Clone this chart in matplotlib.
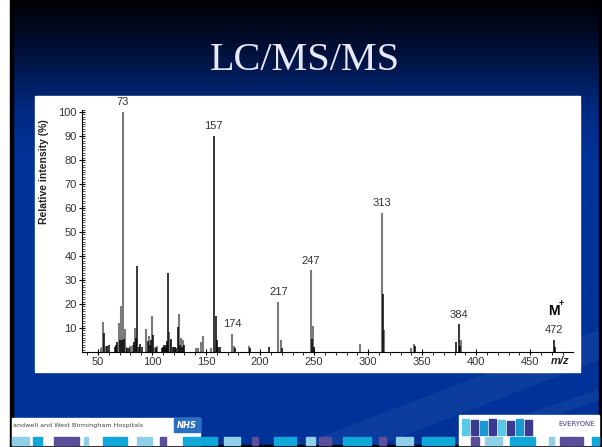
import numpy as np
import matplotlib
matplotlib.use("Agg")
import matplotlib.pyplot as plt
from matplotlib.patches import Rectangle, Polygon
from matplotlib.ticker import MultipleLocator

# spectrum data (m/z, relative intensity %)
gray_mz = [53, 54, 55, 57, 69, 71, 73, 75, 76, 80, 81, 82, 84, 94, 97, 100,
           103, 105, 116, 117, 120, 125, 127, 129, 141, 143, 145, 147, 155,
           174, 176, 190, 217, 219, 247, 249, 292, 313, 315, 340, 342, 386]
gray_int = [1.5, 2, 12.5, 2.5, 12, 19, 100, 9.5, 2, 2.5, 2.5, 3, 10, 9.5, 6.5, 15,
            2, 2.5, 8.5, 5, 2, 16, 6, 5, 1.5, 1.5, 4, 6.5, 1.5,
            7.5, 2.5, 2.5, 21, 5, 34, 11, 3.5, 58, 9, 1.5, 3.5, 5]

black_mz = [56, 58, 60, 66, 67, 68, 70, 72, 74, 77, 79, 83, 85, 86, 88, 89, 91,
            96, 98, 99, 101, 104, 109, 110, 111, 112, 113, 114, 115, 118, 119,
            121, 122, 124, 126, 128, 130, 157, 159, 160, 161, 163, 177, 191,
            208, 220, 248, 250, 314, 343, 381, 384, 385, 472, 473]
black_int = [8, 2.5, 3, 2, 3, 4, 5, 5, 5.5, 1.5, 1.5, 4, 6, 36, 2, 3.5, 2,
             4.5, 3, 5, 7, 1.5, 1.5, 2, 3, 2, 3, 4.5, 33, 5.5, 2,
             2, 1.5, 10.5, 3, 2, 3, 90, 15, 5, 2, 2, 1.5, 1.5,
             2, 1.5, 5.5, 2, 24, 2.5, 4, 11.5, 2.5, 5, 2]

label_mz = [73, 157, 174, 217, 247, 313, 384, 472]
label_int = [100, 90, 7.5, 21, 34, 58, 11.5, 5]

W, H = 602, 447
fig = plt.figure(figsize=(6.02, 4.47), dpi=100, facecolor="white")

# slide background
bg = fig.add_axes([0, 0, 1, 1], zorder=0)
bg.axis("off")

ys = np.linspace(0, 445, 300)
stops = [0, 40, 110, 160, 445]
r = np.interp(ys, stops, [0, 2, 0, 0, 0]) / 255
g = np.interp(ys, stops, [0, 12, 42, 51, 51]) / 255
b = np.interp(ys, stops, [5, 45, 130, 153, 153]) / 255
grad = np.stack([r, g, b], axis=-1)[:, None, :]
bg.imshow(grad, extent=[12, 599, 445, 0], aspect="auto", origin="upper", zorder=0)
bg.set_xlim(0, W)
bg.set_ylim(H, 0)
bg.add_patch(Polygon([[300, 445], [599, 330], [599, 360], [380, 445]],
                     facecolor="white", alpha=0.05, lw=0, zorder=1))
bg.add_patch(Polygon([[430, 445], [599, 390], [599, 400], [470, 445]],
                     facecolor="white", alpha=0.05, lw=0, zorder=1))
bg.add_patch(Rectangle((10, 0), 2.5, H, color="black", zorder=2))
bg.add_patch(Rectangle((599, 0), 3, H, color="black", zorder=2))
bg.add_patch(Rectangle((10, 445), 592, 2, color="black", zorder=2))

bg.text(305, 61, "LC/MS/MS", fontsize=29, family="Liberation Serif",
        color="#e8e8f8", ha="center", va="center", zorder=3)

# white chart panel
bg.add_patch(Rectangle((35, 96), 545, 276, color="white", zorder=2))

# footer logos
bg.add_patch(Rectangle((12, 418), 188, 27, color="white", zorder=2))
bg.add_patch(Rectangle((459, 415), 140, 30, color="white", zorder=2))
bg.text(13, 426, "andwell and West Birmingham Hospitals", fontsize=4.6,
        color="#444444", ha="left", va="center", zorder=3)
bg.add_patch(Rectangle((174, 418), 26, 14, color="#2a6fc0", zorder=3))
bg.text(187, 425, "NHS", fontsize=6, fontweight="bold", style="italic",
        color="white", ha="center", va="center", zorder=4)
for i, c in enumerate(["#5ac8e8", "#3a3a90", "#1a9ad0", "#3a3a90", "#5ac8e8",
                       "#3a3a90", "#1a9ad0", "#3a3a90"]):
    bg.add_patch(Rectangle((462 + i * 9, 419 + (i % 3)), 7, 16 - (i % 3),
                           color=c, zorder=3))
bg.text(577, 424, "EVERYONE", fontsize=5, color="#3a3a90", ha="center",
        va="center", zorder=4)
stripe = [(12, 29, "#8fd0e8"), (33, 42, "#10a8d8"), (54, 79, "#5b4f9a"),
          (84, 88, "#8fd0e8"), (103, 127, "#10a8d8"), (137, 152, "#8fd0e8"),
          (160, 166, "#5b4f9a"), (183, 217, "#10a8d8"), (224, 240, "#8fd0e8"),
          (252, 258, "#5b4f9a"), (274, 296, "#10a8d8"), (306, 315, "#8fd0e8"),
          (319, 331, "#5b4f9a"), (343, 371, "#10a8d8"), (379, 386, "#5b4f9a"),
          (396, 413, "#8fd0e8"), (422, 454, "#10a8d8"), (471, 479, "#5b4f9a"),
          (485, 502, "#8fd0e8"), (510, 535, "#10a8d8"), (549, 554, "#8fd0e8"),
          (560, 583, "#5b4f9a"), (592, 599, "#10a8d8")]
for x0, x1, c in stripe:
    bg.add_patch(Rectangle((x0, 437), x1 - x0, 8, color=c, zorder=3))

# spectrum axes
ax = fig.add_axes([82.3 / W, (H - 352) / H, (573 - 82.3) / W, 242.4 / H], zorder=5)
ax.patch.set_alpha(0)
ax.vlines(gray_mz, 0, gray_int, color="#7a7a7a", lw=1.5)
ax.vlines(black_mz, 0, black_int, color="black", lw=1.1)
for mz, v in zip(label_mz, label_int):
    ax.text(mz, v + 2.0, str(mz), fontsize=8, family="Liberation Sans",
            color="#333333", ha="center", va="bottom")
ax.text(471.5, 14, "M", fontsize=10, fontweight="bold", family="Liberation Sans",
        color="black", ha="center", va="bottom")
ax.text(478.5, 18.5, "+", fontsize=6.5, fontweight="bold",
        family="Liberation Sans", color="black", ha="center", va="bottom")

ax.set_xlim(35.5, 489.5)
ax.set_ylim(0, 101)
ax.set_xticks(range(50, 451, 50))
ax.set_yticks(range(10, 101, 10))
ax.xaxis.set_minor_locator(MultipleLocator(10))
ax.yaxis.set_minor_locator(MultipleLocator(1))
for s in ["top", "right"]:
    ax.spines[s].set_visible(False)
ax.tick_params(axis="x", which="major", direction="inout", length=5, width=0.8,
               labelsize=8, labelcolor="#333333", pad=1)
ax.tick_params(axis="x", which="minor", direction="out", length=2, width=0.6)
ax.tick_params(axis="y", which="major", direction="inout", length=4, width=0.8,
               labelsize=8, labelcolor="#333333", pad=2)
ax.tick_params(axis="y", which="minor", direction="in", length=2, width=0.5)
for lab in ax.get_xticklabels() + ax.get_yticklabels():
    lab.set_family("Liberation Sans")

bg.text(44, 172, "Relative intensity (%)", rotation=90, fontsize=7.5,
        fontweight="bold", family="Liberation Sans", color="#222222",
        ha="center", va="center", zorder=6)
bg.text(560, 361, "m/z", fontsize=8, fontweight="bold", style="italic",
        family="Liberation Sans", color="#222222", ha="center", va="center",
        zorder=6)

fig.savefig("out.png", dpi=100)
